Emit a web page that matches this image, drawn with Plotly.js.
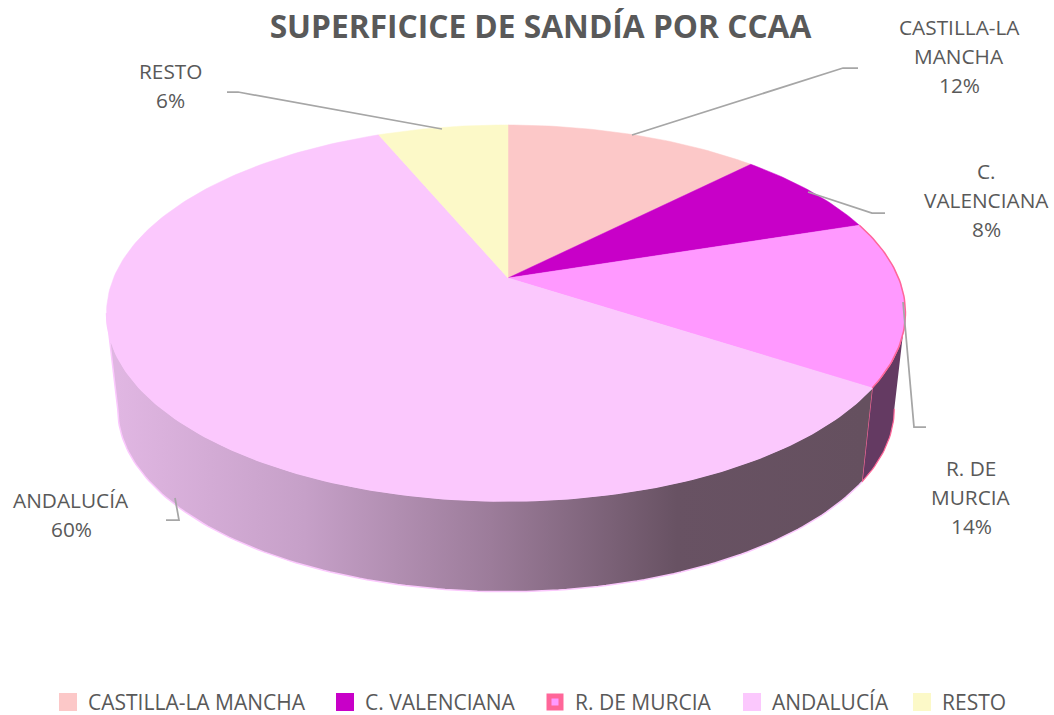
<!DOCTYPE html>
<html>
<head>
<meta charset="utf-8">
<script src="https://cdn.plot.ly/plotly-3.0.1.min.js"></script>
<style>html,body{margin:0;padding:0;background:#fff}#chart{width:1054px;height:715px}</style>
</head>
<body>
<div id="chart"></div>
<script>
var categories = ['CASTILLA-LA MANCHA', 'C. VALENCIANA', 'R. DE MURCIA', 'ANDALUCÍA', 'RESTO'];
var values = [12.4, 7.6, 14.2, 59.5, 6.3];
var sliceColors = ['#FCC8C8', '#C800C8', '#FF99FF', '#FBC8FD', '#FCF9C8'];
var sliceLines = ['#FCC8C8', '#C800C8', '#FF6699', '#FBC8FD', '#FCF9C8'];
var labelLines = [['CASTILLA-LA', 'MANCHA', '12%'], ['C.', 'VALENCIANA', '8%'], ['R. DE', 'MURCIA', '14%'], ['ANDALUCÍA', '60%'], ['RESTO', '6%']];
var labelCenters = [[959, 27], [986, 171], [971, 468], [71, 500], [170, 71]];
var legendX = [48, 325, 535, 732, 902];
var titleText = 'SUPERFICICE DE SANDÍA POR CCAA';

var K = 0.186, E = 0.005, TXT = '#595959', FONT = '"Open Sans", sans-serif';
var topDisc = {cx: 508, cy: 278, a: 392.5, s: 181.5};
var baseDisc = {cx: 508, cy: 375, a: 381.5, s: 176.4};
function proj(deg, d) {
  var t = deg * Math.PI / 180, x = Math.sin(t), y = -Math.cos(t), w = 1 - K * y + E * x;
  return [d.cx + d.a * x / w, d.cy + d.s * y / w];
}
function arc(a, b, d) {
  var out = [], n = Math.max(2, Math.ceil(Math.abs(b - a))), i;
  for (i = 0; i <= n; i++) out.push(proj(a + (b - a) * i / n, d));
  return out;
}
function poly(pts, extra) {
  var o = {type: 'scatter', mode: 'lines', fill: 'toself', x: pts.map(function (p) { return p[0]; }), y: pts.map(function (p) { return p[1]; }), showlegend: false, hoverinfo: 'skip'};
  for (var k in extra) o[k] = extra[k];
  return o;
}
var total = values.reduce(function (a, b) { return a + b; }, 0), cum = 0;
var bounds = values.map(function (v) { var a = cum / total * 360; cum += v; return [a, cum / total * 360]; });
var traces = [];
// side walls
var rightEdge = Math.acos(-K) * 180 / Math.PI, leftEdge = 360 - rightEdge;
var mEnd = bounds[2][1];
traces.push(poly(arc(rightEdge, mEnd, topDisc).concat(arc(mEnd, rightEdge, baseDisc)), {fillcolor: '#643A62', line: {color: '#FF6699', width: 1.2}}));
traces.push(poly(arc(mEnd, leftEdge, topDisc).concat(arc(leftEdge, mEnd, baseDisc)), {
  line: {color: '#FBC8FD', width: 1.5},
  fillgradient: {type: 'horizontal', start: 118, stop: 863, colorscale: [[0, '#E0B6E2'], [0.25, '#C6A0C8'], [0.5, '#9C7C9A'], [0.75, '#685263'], [1, '#65505F']]}
}));
// top slices
values.forEach(function (v, i) {
  var pts = [[topDisc.cx, topDisc.cy]].concat(arc(bounds[i][0], bounds[i][1], topDisc));
  pts.push([topDisc.cx, topDisc.cy]);
  traces.push(poly(pts, {name: categories[i], fillcolor: sliceColors[i], line: {color: sliceColors[i], width: 0.5}}));
});
// pink rim of the R. DE MURCIA slice
var rim = arc(bounds[2][0], bounds[2][1], topDisc);
traces.push({type: 'scatter', mode: 'lines', x: rim.map(function (p) { return p[0]; }), y: rim.map(function (p) { return p[1]; }), line: {color: sliceLines[2], width: 1.5}, showlegend: false, hoverinfo: 'skip'});
// legend entries
var layoutLegends = {};
categories.forEach(function (c, i) {
  var key = i === 0 ? 'legend' : 'legend' + (i + 1);
  traces.push({type: 'scatter', mode: 'markers', x: [null], y: [null], name: c, legend: key, showlegend: true, hoverinfo: 'skip',
    marker: {symbol: 'square', size: i === 2 ? 12 : 16, color: sliceColors[i], line: {color: sliceLines[i], width: i === 2 ? 5 : 2}}});
  layoutLegends[key] = {x: legendX[i] / 1054, xanchor: 'left', y: -0.011, yanchor: 'bottom', bgcolor: 'rgba(0,0,0,0)', borderwidth: 0, itemclick: false, itemdoubleclick: false, font: {family: FONT, size: 21, color: TXT}};
});
// data labels
var annotations = [];
labelLines.forEach(function (lines, i) {
  lines.forEach(function (t, j) {
    annotations.push({x: labelCenters[i][0], y: labelCenters[i][1] + 29 * j, xref: 'x', yref: 'y', text: t, showarrow: false, xanchor: 'center', yanchor: 'middle', font: {family: FONT, size: 20.8, color: TXT}});
  });
});
function leader(path) { return {type: 'path', xref: 'x', yref: 'y', path: path, line: {color: '#A6A6A6', width: 1.75}, layer: 'above'}; }
var layout = {
  width: 1054, height: 715, margin: {l: 0, r: 0, t: 0, b: 0, autoexpand: false}, paper_bgcolor: '#fff', plot_bgcolor: '#fff',
  title: {text: '<b>' + titleText + '</b>', x: 540.5 / 1054, xanchor: 'center', y: 1 - 27 / 715, yanchor: 'middle', xref: 'paper', yref: 'paper', font: {family: FONT, size: 31.7, color: TXT}},
  xaxis: {range: [0, 1054], visible: false, fixedrange: true},
  yaxis: {range: [715, 0], visible: false, fixedrange: true},
  annotations: annotations,
  shapes: [
    leader('M632,135 L843,68 L858,68'),
    leader('M808,192 L872,213 L885,213'),
    leader('M903,302 L914,427 L926,427'),
    leader('M175,498 L179,520 L166,520'),
    leader('M442,129 L238,92 L227,92')
  ],
  hovermode: false
};
for (var k in layoutLegends) layout[k] = layoutLegends[k];
Plotly.newPlot('chart', traces, layout, {displayModeBar: false, responsive: false});
</script>
</body>
</html>
